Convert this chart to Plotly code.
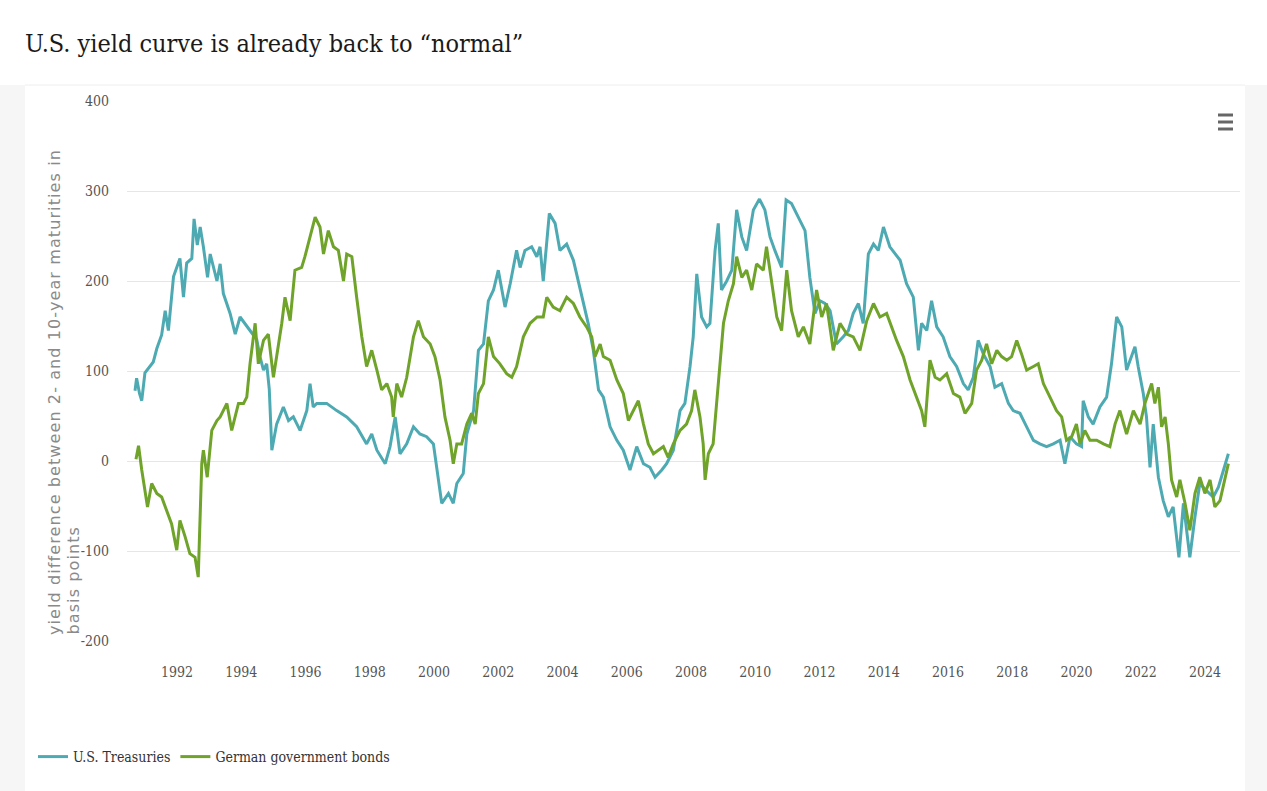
import pandas as pd
import plotly.graph_objects as go

# ---- data (decimal years, basis points) ----
us_years = [1990.69, 1990.74, 1990.83, 1990.90, 1991.00, 1991.16, 1991.26, 1991.37, 1991.52, 1991.63,
            1991.73, 1991.89, 1991.99, 1992.09, 1992.20, 1992.30, 1992.46, 1992.53, 1992.63, 1992.72,
            1992.82, 1992.95, 1993.03, 1993.24, 1993.34, 1993.44, 1993.65, 1993.81, 1993.96, 1994.17,
            1994.27, 1994.48, 1994.58, 1994.69, 1994.79, 1994.87, 1994.95, 1995.10, 1995.31, 1995.47,
            1995.62, 1995.83, 1996.04, 1996.14, 1996.24, 1996.35, 1996.66, 1996.97, 1997.28, 1997.59,
            1997.90, 1998.06, 1998.22, 1998.48, 1998.63, 1998.79, 1998.94, 1999.15, 1999.36, 1999.56,
            1999.77, 1999.98, 2000.08, 2000.24, 2000.45, 2000.60, 2000.71, 2000.91, 2001.02, 2001.23,
            2001.38, 2001.54, 2001.69, 2001.85, 2002.00, 2002.21, 2002.37, 2002.57, 2002.68, 2002.83,
            2003.04, 2003.20, 2003.30, 2003.40, 2003.59, 2003.77, 2003.92, 2004.13, 2004.34, 2004.49,
            2004.65, 2004.80, 2004.96, 2005.12, 2005.27, 2005.48, 2005.69, 2005.89, 2006.10, 2006.31,
            2006.52, 2006.72, 2006.88, 2007.09, 2007.24, 2007.45, 2007.66, 2007.81, 2007.97, 2008.07,
            2008.18, 2008.33, 2008.49, 2008.59, 2008.75, 2008.85, 2008.95, 2009.11, 2009.27, 2009.42,
            2009.58, 2009.73, 2009.94, 2010.13, 2010.30, 2010.46, 2010.61, 2010.82, 2010.96, 2011.13,
            2011.34, 2011.55, 2011.70, 2011.86, 2012.02, 2012.17, 2012.33, 2012.53, 2012.74, 2012.90,
            2013.05, 2013.21, 2013.36, 2013.52, 2013.68, 2013.83, 2013.99, 2014.19, 2014.51, 2014.71,
            2014.92, 2015.08, 2015.18, 2015.34, 2015.49, 2015.65, 2015.85, 2016.06, 2016.27, 2016.48,
            2016.63, 2016.79, 2016.94, 2017.10, 2017.31, 2017.46, 2017.67, 2017.88, 2018.03, 2018.24,
            2018.45, 2018.66, 2018.86, 2019.07, 2019.28, 2019.49, 2019.64, 2019.80, 2020.00, 2020.16,
            2020.21, 2020.37, 2020.52, 2020.73, 2020.94, 2021.09, 2021.25, 2021.41, 2021.56, 2021.72,
            2021.82, 2021.92, 2022.08, 2022.18, 2022.29, 2022.39, 2022.55, 2022.70, 2022.86, 2023.01,
            2023.19, 2023.33, 2023.53, 2023.69, 2023.84, 2024.05, 2024.26, 2024.42, 2024.57, 2024.73]
us_values = [78, 92, 75, 67, 98, 105, 110, 125, 140, 167,
             145, 205, 215, 225, 182, 220, 225, 269, 240, 260,
             238, 204, 230, 200, 219, 186, 164, 141, 160, 149,
             145, 135, 116, 101, 108, 80, 12, 41, 60, 45,
             49, 34, 56, 86, 60, 64, 64, 56, 49, 38,
             19, 30, 12, -3, 16, 49, 8, 19, 38, 30,
             27, 19, -7, -47, -36, -47, -25, -14, 30, 56,
             123, 130, 178, 190, 212, 171, 197, 234, 215, 234,
             238, 227, 238, 200, 275, 264, 234, 241, 223, 200,
             178, 153, 123, 79, 71, 38, 23, 12, -10, 16,
             -3, -7, -18, -10, -3, 12, 56, 64, 105, 138,
             208, 160, 149, 153, 234, 264, 190, 200, 212, 279,
             249, 234, 279, 291, 279, 249, 234, 215, 290, 286,
             271, 256, 204, 164, 178, 175, 167, 130, 138, 145,
             164, 175, 153, 230, 241, 234, 260, 238, 223, 197,
             182, 123, 153, 145, 178, 149, 138, 116, 105, 86,
             79, 93, 134, 119, 105, 82, 86, 64, 56, 53,
             38, 23, 19, 16, 19, 23, -3, 27, 19, 16,
             67, 49, 41, 60, 71, 108, 160, 149, 101, 116,
             127, 105, 75, 49, -7, 41, -18, -44, -62, -51,
             -107, -47, -107, -62, -25, -33, -40, -29, -10, 8]

de_years = [1990.72, 1990.80, 1990.90, 1991.00, 1991.08, 1991.21, 1991.37, 1991.52, 1991.68, 1991.83,
            1991.99, 1992.09, 1992.25, 1992.40, 1992.56, 1992.66, 1992.77, 1992.82, 1992.94, 1993.08,
            1993.24, 1993.34, 1993.55, 1993.70, 1993.91, 1994.07, 1994.17, 1994.27, 1994.43, 1994.53,
            1994.69, 1994.84, 1995.00, 1995.10, 1995.26, 1995.36, 1995.52, 1995.67, 1995.88, 1995.98,
            1996.14, 1996.30, 1996.45, 1996.56, 1996.71, 1996.87, 1997.02, 1997.18, 1997.28, 1997.44,
            1997.59, 1997.75, 1997.90, 1998.06, 1998.22, 1998.37, 1998.53, 1998.68, 1998.73, 1998.84,
            1998.99, 1999.15, 1999.36, 1999.51, 1999.67, 1999.88, 2000.03, 2000.19, 2000.34, 2000.50,
            2000.60, 2000.71, 2000.86, 2001.02, 2001.17, 2001.28, 2001.38, 2001.54, 2001.69, 2001.85,
            2002.05, 2002.26, 2002.42, 2002.57, 2002.78, 2002.99, 2003.21, 2003.40, 2003.51, 2003.71,
            2003.92, 2004.13, 2004.34, 2004.54, 2004.75, 2004.91, 2005.01, 2005.17, 2005.27, 2005.48,
            2005.69, 2005.89, 2006.05, 2006.20, 2006.36, 2006.52, 2006.67, 2006.83, 2006.98, 2007.14,
            2007.29, 2007.45, 2007.66, 2007.86, 2008.02, 2008.12, 2008.28, 2008.38, 2008.44, 2008.54,
            2008.69, 2008.80, 2008.90, 2009.01, 2009.16, 2009.32, 2009.42, 2009.58, 2009.73, 2009.89,
            2010.04, 2010.25, 2010.35, 2010.51, 2010.67, 2010.82, 2010.98, 2011.13, 2011.34, 2011.50,
            2011.70, 2011.91, 2012.07, 2012.22, 2012.43, 2012.64, 2012.85, 2013.05, 2013.26, 2013.47,
            2013.68, 2013.88, 2014.09, 2014.40, 2014.61, 2014.82, 2015.02, 2015.18, 2015.28, 2015.44,
            2015.60, 2015.75, 2015.96, 2016.17, 2016.37, 2016.53, 2016.74, 2016.89, 2017.05, 2017.20,
            2017.36, 2017.52, 2017.67, 2017.83, 2017.98, 2018.14, 2018.29, 2018.45, 2018.66, 2018.81,
            2018.97, 2019.18, 2019.38, 2019.54, 2019.69, 2019.85, 2020.00, 2020.11, 2020.26, 2020.42,
            2020.63, 2020.84, 2021.04, 2021.20, 2021.35, 2021.56, 2021.77, 2021.98, 2022.13, 2022.34,
            2022.44, 2022.55, 2022.65, 2022.76, 2022.86, 2022.96, 2023.12, 2023.22, 2023.38, 2023.53,
            2023.69, 2023.84, 2024.00, 2024.16, 2024.31, 2024.47, 2024.62, 2024.73]
de_values = [2, 17, -10, -33, -51, -25, -36, -40, -55, -70,
             -99, -66, -84, -103, -107, -129, -3, 12, -18, 34,
             45, 49, 64, 34, 64, 64, 71, 108, 153, 108,
             134, 141, 93, 116, 153, 182, 156, 212, 215, 227,
             249, 271, 260, 230, 256, 238, 234, 200, 230, 227,
             182, 138, 105, 123, 101, 79, 86, 71, 49, 86,
             71, 93, 138, 156, 138, 130, 116, 90, 49, 23,
             -3, 19, 19, 41, 53, 41, 75, 86, 138, 116,
             108, 97, 93, 105, 138, 153, 160, 160, 182, 171,
             167, 182, 175, 160, 149, 138, 116, 130, 116, 112,
             90, 75, 45, 56, 67, 41, 19, 8, 12, 16,
             4, 19, 34, 41, 56, 79, 49, 19, -21, 8,
             19, 67, 105, 153, 178, 197, 227, 204, 212, 190,
             219, 212, 238, 197, 160, 145, 212, 167, 138, 149,
             130, 190, 160, 175, 123, 153, 141, 138, 123, 156,
             175, 160, 164, 134, 116, 90, 71, 56, 38, 112,
             93, 90, 97, 75, 71, 53, 64, 101, 112, 130,
             108, 123, 116, 112, 116, 134, 119, 101, 105, 108,
             86, 71, 56, 49, 23, 27, 41, 19, 34, 23,
             23, 19, 16, 41, 56, 30, 56, 41, 64, 86,
             64, 82, 38, 49, 19, -21, -40, -21, -47, -77,
             -36, -18, -36, -21, -51, -44, -18, -3]

y_ticks = [-200, -100, 0, 100, 200, 300, 400]
y_tick_labels = [str(v) for v in y_ticks]
series_names = ["U.S. Treasuries", "German government bonds"]
colors = ["#4eaab2", "#70a32a"]
y_title_lines = ["yield difference between 2- and 10-year maturities in", "basis points"]


def to_dates(years):
    out = []
    for y in years:
        yr = int(y)
        start = pd.Timestamp(year=yr, month=1, day=1)
        out.append(start + pd.Timedelta(days=(y - yr) * 365.25))
    return out


W, H = 1267, 791
L, R, T, B = 127, 27, 101, 150
pw, ph = W - L - R, H - T - B


def px(x):
    return (x - L) / pw


def py(y):
    return (H - B - y) / ph


fig = go.Figure()
for name, yrs, vals, col in [(series_names[0], us_years, us_values, colors[0]),
                             (series_names[1], de_years, de_values, colors[1])]:
    fig.add_trace(go.Scatter(x=to_dates(yrs), y=vals, mode="lines", name=name,
                             line=dict(color=col, width=3)))

serif = "DejaVu Serif Condensed, Liberation Serif, serif"

shapes = [
    dict(type="rect", xref="paper", yref="paper", x0=px(0), x1=px(25), y0=py(791), y1=py(85),
         fillcolor="#f6f6f6", line_width=0, layer="below"),
    dict(type="rect", xref="paper", yref="paper", x0=px(1245), x1=px(1267), y0=py(791), y1=py(85),
         fillcolor="#f6f6f6", line_width=0, layer="below"),
    dict(type="line", xref="paper", yref="paper", x0=px(25), x1=px(1245), y0=py(85), y1=py(85),
         line=dict(color="#eeeeee", width=1), layer="below"),
]
for yy in (115, 122, 129):
    shapes.append(dict(type="line", xref="paper", yref="paper", x0=px(1218), x1=px(1233),
                       y0=py(yy), y1=py(yy), line=dict(color="#666666", width=3)))

annotations = []
for line_text, xc in zip(y_title_lines, (54, 73)):
    annotations.append(dict(text='<span style="letter-spacing:1.1px">' + line_text + '</span>',
                            xref="paper", yref="paper", x=px(xc), y=py(637),
                            xanchor="center", yanchor="bottom", textangle=-90, showarrow=False,
                            font=dict(family="DejaVu Sans, sans-serif", size=16, color="#8a8a8a")))

fig.update_layout(
    width=W, height=H,
    margin=dict(l=L, r=R, t=T, b=B),
    paper_bgcolor="white", plot_bgcolor="white",
    title=dict(text="U.S. yield curve is already back to “normal”", x=25 / W, xanchor="left",
               y=1 - 43 / H, yanchor="middle",
               font=dict(family=serif, size=25, color="#1a1a1a")),
    xaxis=dict(type="date", range=["1990-06-11", "2025-02-03"], tick0="1992-01-01", dtick="M24",
               tickformat="%Y", showgrid=False, showline=False, zeroline=False, ticks="",
               ticklabelstandoff=21,
               tickfont=dict(family=serif, size=14, color="#555555")),
    yaxis=dict(range=[-200, 400], tickvals=y_ticks, ticktext=y_tick_labels,
               showgrid=True, gridcolor="#e6e6e6", gridwidth=1,
               zeroline=False, showline=False, ticks="", ticklabelstandoff=17,
               tickfont=dict(family=serif, size=14, color="#555555")),
    showlegend=True,
    legend=dict(orientation="h", x=px(33), xanchor="left", y=py(757), yanchor="middle",
                font=dict(family=serif, size=14, color="#333333"),
                bgcolor="rgba(0,0,0,0)"),
    shapes=shapes,
    annotations=annotations,
)

fig.write_html("out.html", config={"displayModeBar": False},
               post_script="document.body.style.margin='0';")
